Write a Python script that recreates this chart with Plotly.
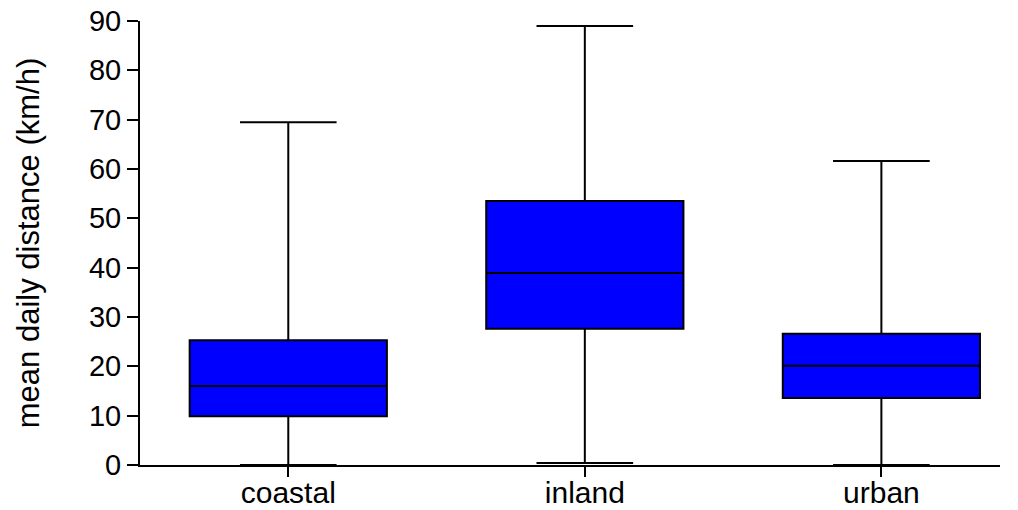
import plotly.graph_objects as go

categories = ["coastal", "inland", "urban"]
lower_whisker = [0.0, 0.4, 0.0]
q1_vals = [9.9, 27.6, 13.6]
median_vals = [16.0, 38.9, 20.1]
q3_vals = [25.3, 53.5, 26.6]
upper_whisker = [69.5, 89.0, 61.6]
y_ticks = [0, 10, 20, 30, 40, 50, 60, 70, 80, 90]

xpos = list(range(len(categories)))

fig = go.Figure()
fig.add_trace(go.Box(
    x=xpos,
    q1=q1_vals, median=median_vals, q3=q3_vals,
    lowerfence=lower_whisker, upperfence=upper_whisker,
    width=0.665, whiskerwidth=0.49,
    fillcolor="#0000FF",
    line=dict(color="black", width=2),
    boxpoints=False,
    hoverinfo="skip",
    showlegend=False,
))

fam = "Liberation Sans, Arial, sans-serif"
font = dict(family=fam, size=29, color="black")
xfont = dict(family=fam, size=30, color="black")
tfont = dict(family=fam, size=31, color="black")
fig.update_layout(
    width=1018, height=510,
    margin=dict(l=140, r=18, t=21, b=45, pad=0),
    plot_bgcolor="white", paper_bgcolor="white",
    font=font,
    xaxis=dict(
        range=[-0.5, 2.4], tickmode="array", tickvals=xpos, ticktext=categories,
        showgrid=False, zeroline=False, showline=True, linecolor="black", linewidth=2,
        ticks="outside", ticklen=10, tickwidth=2, tickcolor="black",
        tickfont=xfont, automargin=False, ticklabeloverflow="allow",
        ticklabelstandoff=-10,
    ),
    yaxis=dict(
        range=[0, 90], tickmode="array", tickvals=y_ticks,
        showgrid=False, zeroline=False, showline=True, linecolor="black", linewidth=2,
        ticks="outside", ticklen=11, tickwidth=2, tickcolor="black",
        tickfont=font, automargin=False, ticklabeloverflow="allow",
        title=dict(text="mean daily distance (km/h)", font=tfont, standoff=40),
    ),
)
fig.write_html(
    "out.html",
    config={"displayModeBar": False},
    post_script="document.body.style.margin='0';document.body.style.overflow='hidden';",
)
